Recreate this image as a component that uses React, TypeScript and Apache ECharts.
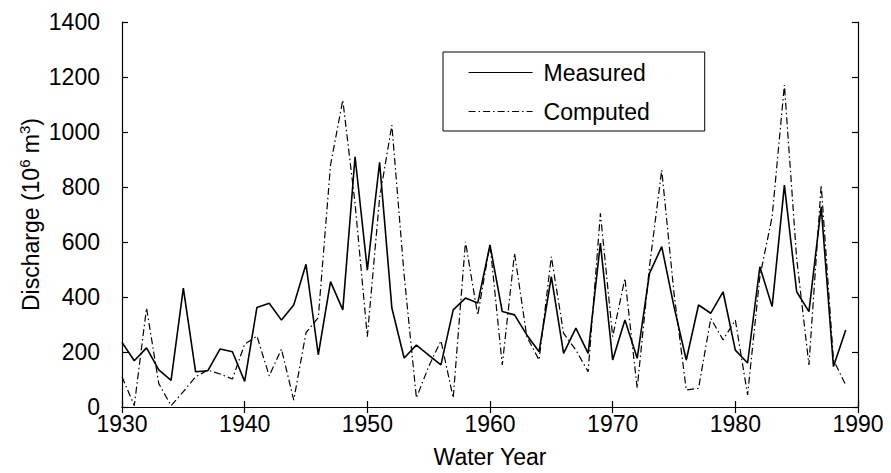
import React, { useEffect, useRef } from "react";
import * as echarts from "echarts";

const years: number[] = [
  1930, 1931, 1932, 1933, 1934, 1935, 1936, 1937, 1938, 1939,
  1940, 1941, 1942, 1943, 1944, 1945, 1946, 1947, 1948, 1949,
  1950, 1951, 1952, 1953, 1954, 1955, 1956, 1957, 1958, 1959,
  1960, 1961, 1962, 1963, 1964, 1965, 1966, 1967, 1968, 1969,
  1970, 1971, 1972, 1973, 1974, 1975, 1976, 1977, 1978, 1979,
  1980, 1981, 1982, 1983, 1984, 1985, 1986, 1987, 1988, 1989,
];

const measured: number[] = [
  235, 168, 215, 135, 97, 432, 128, 132, 211, 201,
  93, 362, 377, 316, 371, 519, 190, 456, 353, 910,
  498, 890, 360, 178, 225, 189, 153, 353, 396, 378,
  589, 347, 335, 262, 201, 474, 195, 287, 195, 596,
  171, 316, 177, 486, 583, 365, 171, 371, 341, 419,
  207, 160, 510, 365, 807, 419, 347, 728, 147, 280,
];

const computed: number[] = [
  110, 5, 360, 85, 5, 56, 110, 134, 120, 102,
  228, 258, 113, 211, 25, 270, 325, 880, 1116, 740,
  256, 760, 1025, 480, 33, 147, 241, 33, 601, 334,
  592, 153, 559, 256, 171, 547, 268, 207, 128, 704,
  256, 468, 68, 510, 862, 414, 62, 68, 322, 244,
  316, 44, 474, 692, 1171, 540, 153, 807, 171, 80,
];

const xMin = 1930;
const xMax = 1990;
const xStep = 10;
const yMin = 0;
const yMax = 1400;
const yStep = 200;

const FONT = '"Liberation Sans", Arial, Helvetica, sans-serif';

export default function App() {
  const ref = useRef<HTMLDivElement>(null);

  useEffect(() => {
    if (!ref.current) return;
    const chart = echarts.init(ref.current, undefined, { renderer: "svg" });
    const axisLine = { show: true, lineStyle: { color: "#000", width: 1.2 } };
    const tick = { show: true, inside: true, length: 6, lineStyle: { color: "#000", width: 1.2 } };
    const plain = (v: number) => String(v);
    chart.setOption({
      animation: false,
      backgroundColor: "#fff",
      textStyle: { fontFamily: FONT, color: "#000" },
      grid: { left: 122, right: 33, top: 22, bottom: 66, containLabel: false },
      legend: {
        orient: "vertical",
        left: 443,
        top: 52,
        itemWidth: 64,
        itemHeight: 14,
        itemGap: 14,
        padding: [8, 55, 7, 25],
        borderColor: "#000",
        borderWidth: 1,
        backgroundColor: "#fff",
        itemStyle: { opacity: 0 },
        lineStyle: { width: 1.2 },
        textStyle: { fontFamily: FONT, fontSize: 23, color: "#000", lineHeight: 25, padding: [0, 0, 0, 6] },
        data: ["Measured", "Computed"],
      },
      xAxis: [
        {
          type: "value",
          min: xMin,
          max: xMax,
          interval: xStep,
          position: "bottom",
          axisLine,
          axisTick: tick,
          splitLine: { show: false },
          axisLabel: { show: true, margin: 5, fontSize: 23, color: "#000", fontFamily: FONT, formatter: plain },
          name: "Water Year",
          nameLocation: "middle",
          nameGap: 38,
          nameMoveOverlap: false,
          nameTextStyle: { fontSize: 23, color: "#000", fontFamily: FONT },
        },
        {
          type: "value",
          min: xMin,
          max: xMax,
          interval: xStep,
          position: "top",
          axisLine,
          axisTick: tick,
          splitLine: { show: false },
          axisLabel: { show: false },
        },
      ],
      yAxis: [
        {
          type: "value",
          min: yMin,
          max: yMax,
          interval: yStep,
          position: "left",
          axisLine,
          axisTick: tick,
          splitLine: { show: false },
          axisLabel: { show: true, margin: 22, fontSize: 23, color: "#000", fontFamily: FONT, formatter: plain },
          name: "Discharge (10{sup|6} m{sup|3})",
          nameLocation: "middle",
          nameGap: 77,
          nameMoveOverlap: false,
          nameTextStyle: {
            fontSize: 23,
            color: "#000",
            fontFamily: FONT,
            rich: {
              sup: { fontSize: 15, fontFamily: FONT, color: "#000", padding: [0, 0, 13, 0], verticalAlign: "bottom" },
            },
          },
        },
        {
          type: "value",
          min: yMin,
          max: yMax,
          interval: yStep,
          position: "right",
          axisLine,
          axisTick: tick,
          splitLine: { show: false },
          axisLabel: { show: false },
        },
      ],
      series: [
        {
          name: "Measured",
          type: "line",
          xAxisIndex: 0,
          yAxisIndex: 0,
          symbol: "none",
          showSymbol: false,
          data: years.map((y, i) => [y, measured[i]]),
          lineStyle: { color: "#000", width: 1.6, type: "solid" },
          itemStyle: { color: "#000" },
        },
        {
          name: "Computed",
          type: "line",
          xAxisIndex: 0,
          yAxisIndex: 0,
          symbol: "none",
          showSymbol: false,
          data: years.map((y, i) => [y, computed[i]]),
          lineStyle: { color: "#000", width: 1.2, type: [7, 3, 1.5, 3] },
          itemStyle: { color: "#000" },
        },
      ],
    });
    return () => chart.dispose();
  }, []);

  return (
    <div
      ref={ref}
      style={{ position: "fixed", left: 0, top: 0, width: 891, height: 473, background: "#fff" }}
    />
  );
}
